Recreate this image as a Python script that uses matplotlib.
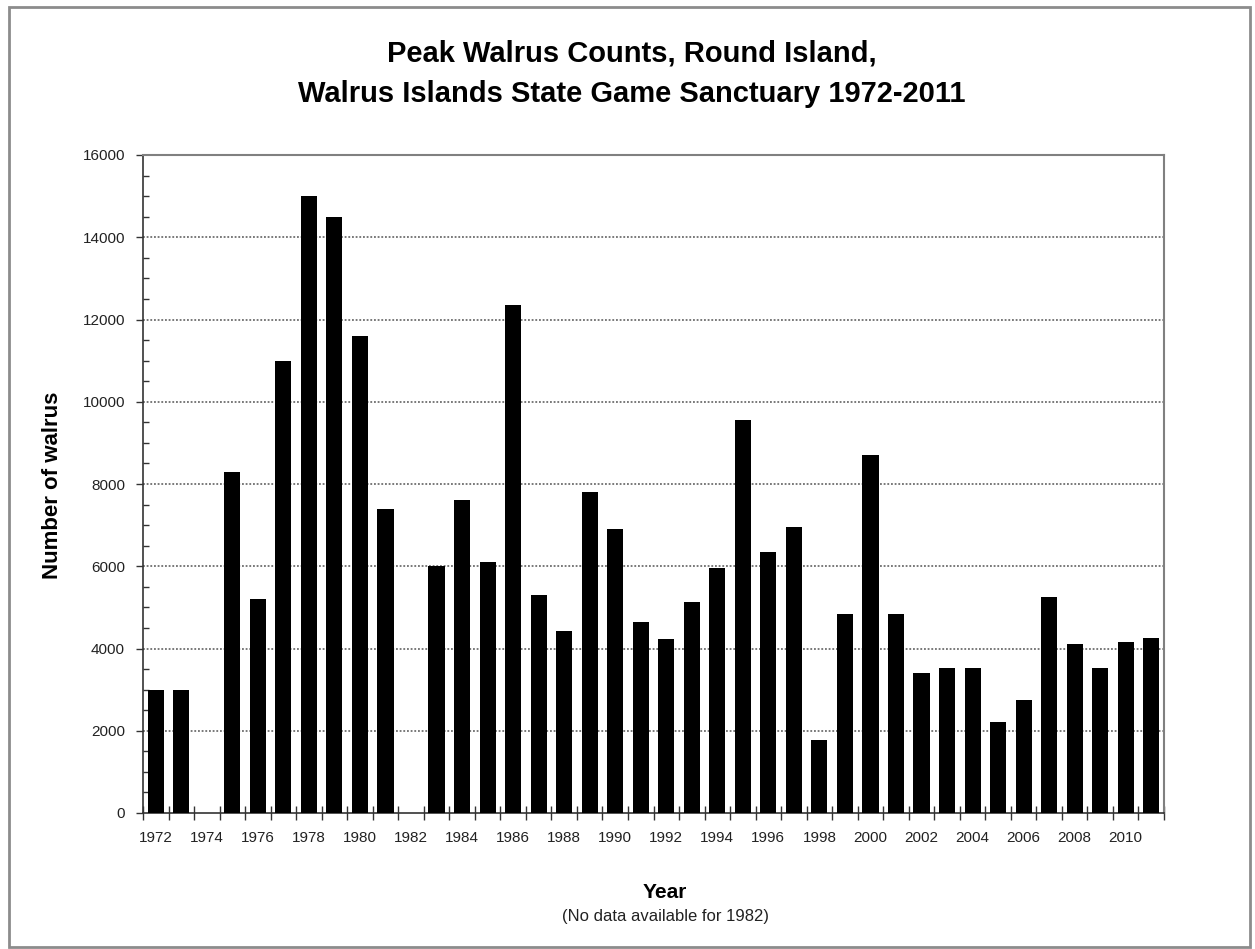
import matplotlib
matplotlib.use("Agg")
import matplotlib.pyplot as plt
from matplotlib.patches import Rectangle
from matplotlib.ticker import MultipleLocator, FixedLocator, NullFormatter

# Dữ liệu (None = không có số liệu)
years = list(range(1972, 2012))
walrus = [3000, 3000, None, 8300, 5200, 11000, 15000, 14500, 11600, 7400,
          None, 6000, 7600, 6100, 12350, 5300, 4430, 7800, 6900, 4650,
          4230, 5140, 5950, 9550, 6350, 6950, 1780, 4840, 8700, 4840,
          3400, 3520, 3520, 2220, 2750, 5250, 4100, 3520, 4170, 4260]
tick_years = [str(y) for y in years if y % 2 == 0]

title_1 = "Peak Walrus Counts, Round Island,"
title_2 = "Walrus Islands State Game Sanctuary 1972-2011"
y_title = "Number of walrus"
x_title = "Year"
x_note = "(No data available for 1982)"

plt.rcParams['font.family'] = ['Liberation Sans', 'DejaVu Sans']

W, H = 1255, 949
fig = plt.figure(figsize=(W / 100, H / 100), dpi=100)
ax = fig.add_axes([143 / W, 1 - 813 / H, (1164 - 143) / W, (813 - 155) / H])

# Vẽ cột
idx = [i for i, v in enumerate(walrus) if v is not None]
vals = [v for v in walrus if v is not None]
ax.bar(idx, vals, width=0.63, color='black', zorder=3)

ax.set_xlim(-0.5, len(years) - 0.5)
ax.set_ylim(0, 16000)

# Lưới ngang dạng chấm
for g in range(2000, 16000, 2000):
    ax.axhline(g, color='#555555', lw=1.1, ls=(0, (1.2, 1.2)), zorder=1)

# Trục y
ax.yaxis.set_major_locator(MultipleLocator(2000))
ax.yaxis.set_minor_locator(MultipleLocator(500))
ax.tick_params(axis='y', which='major', direction='out', length=5, width=1,
               color='#333333', labelsize=11, labelcolor='#222222', pad=8)
ax.tick_params(axis='y', which='minor', direction='in', length=4, width=1,
               color='#333333')

# Trục x: vạch ở ranh giới các năm, nhãn mỗi 2 năm
ax.xaxis.set_major_locator(FixedLocator([i - 0.5 for i in range(len(years) + 1)]))
ax.xaxis.set_major_formatter(NullFormatter())
ax.xaxis.set_minor_locator(FixedLocator([i for i in range(len(years)) if years[i] % 2 == 0]))
ax.set_xticklabels(tick_years, minor=True)
ax.tick_params(axis='x', which='major', direction='inout', length=10, width=1,
               color='#333333')
ax.tick_params(axis='x', which='minor', length=0, labelsize=11,
               labelcolor='#222222', pad=13)

for s in ['left', 'bottom']:
    ax.spines[s].set_color('#333333')
    ax.spines[s].set_linewidth(1.2)
for s in ['top', 'right']:
    ax.spines[s].set_color('#808080')
    ax.spines[s].set_linewidth(1.5)

# Tiêu đề và nhãn trục
fig.text(632 / W, 1 - 62 / H, title_1, ha='center', va='baseline',
         fontsize=21, fontweight='bold')
fig.text(632 / W, 1 - 102 / H, title_2, ha='center', va='baseline',
         fontsize=21, fontweight='bold')
fig.text(53 / W, 1 - 485 / H, y_title, rotation=90, ha='center', va='center',
         fontsize=16, fontweight='bold')
fig.text(665 / W, 1 - 898 / H, x_title, ha='center', va='baseline',
         fontsize=15, fontweight='bold')
fig.text(666 / W, 1 - 921 / H, x_note, ha='center', va='baseline',
         fontsize=12, color='#222222')

# Khung ngoài
fig.patches.append(Rectangle((9 / W, 1 - 947 / H), (1250 - 9) / W, (947 - 7) / H,
                             transform=fig.transFigure, fill=False,
                             edgecolor='#8c8c8c', lw=2))

fig.savefig("out.png", dpi=100)
